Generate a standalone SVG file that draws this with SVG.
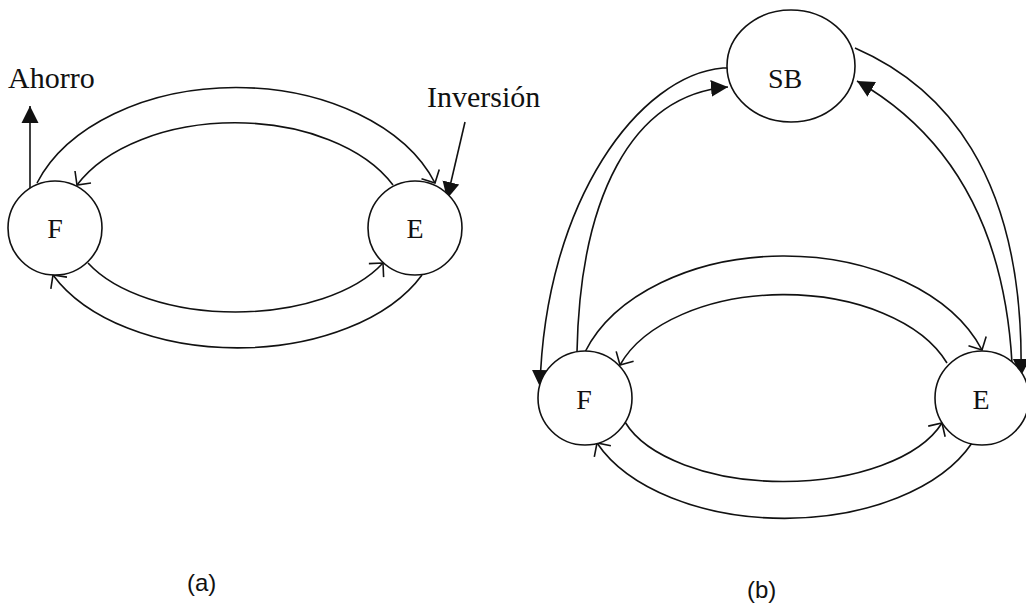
<svg xmlns="http://www.w3.org/2000/svg" width="1026" height="605" viewBox="0 0 1026 605">
<style>
.node{fill:#fff;stroke:#111;stroke-width:1.6}
.lbl{font-family:"Liberation Serif","Times New Roman",serif;font-size:28px;fill:#111;text-anchor:middle}
.txt{font-family:"Liberation Serif","Times New Roman",serif;font-size:30px;fill:#111}
.cap{font-family:"Liberation Sans",Arial,sans-serif;font-size:24px;fill:#111}
.c{fill:none;stroke:#111;stroke-width:1.6}
.o{marker-end:url(#open)}
.f{marker-end:url(#fill)}
</style>
<defs>
<marker id="open" markerUnits="userSpaceOnUse" markerWidth="14" markerHeight="24" refX="11" refY="11" orient="auto" viewBox="0 0 14 22">
<path d="M1,1 L11,11 L1,21" fill="none" stroke="#111" stroke-width="1.6"/>
</marker>
<marker id="fill" markerUnits="userSpaceOnUse" markerWidth="18" markerHeight="18" refX="17" refY="8.5" orient="auto" viewBox="0 0 18 17">
<path d="M0,0 L17,8.5 L0,17 z" fill="#111"/>
</marker>
</defs>
<g id="connectors">
<!-- (a) -->
<path class="c o" d="M37,183 A211,143 0 0 1 435,183"/>
<path class="c o" d="M393,185 A174,107 0 0 0 77,185"/>
<path class="c o" d="M88,263 A164,87 0 0 0 383,263"/>
<path class="c o" d="M422,275 A202,123 0 0 1 53,275"/>
<path class="c f" d="M30,200 L30,106"/>
<path class="c f" d="M465,122 L447,199"/>
<!-- (b) -->
<path class="c o" d="M585,352 A210,141 0 0 1 982,350"/>
<path class="c o" d="M947,363 A173,103 0 0 0 620,365"/>
<path class="c o" d="M625,422 A166,84 0 0 0 942,423"/>
<path class="c o" d="M972,443 A202,120 0 0 1 597,443"/>
<path class="c f" d="M727,68 L723,68 C640,75 545,200 540,387"/>
<path class="c f" d="M577,352 C580,200 630,95 728,87"/>
<path class="c f" d="M855,48 C940,85 1025,170 1021,376"/>
<path class="c f" d="M1012,363 C1005,240 960,140 857,81"/>
</g>
<g id="node-a-F"><circle class="node" cx="55" cy="228" r="47"/><text class="lbl" x="55" y="238">F</text></g>
<g id="node-a-E"><circle class="node" cx="415" cy="228" r="47"/><text class="lbl" x="415" y="238">E</text></g>
<g id="node-b-SB"><ellipse class="node" cx="791" cy="66" rx="64" ry="56"/><text class="lbl" x="785" y="88">SB</text></g>
<g id="node-b-F"><circle class="node" cx="585" cy="398" r="47"/><text class="lbl" x="584" y="409">F</text></g>
<g id="node-b-E"><circle class="node" cx="982" cy="398" r="47"/><text class="lbl" x="981" y="409">E</text></g>
<g id="labels">
<text class="txt" x="8" y="88">Ahorro</text>
<text class="txt" x="427" y="107">Inversión</text>
<text class="cap" x="187" y="591">(a)</text>
<text class="cap" x="747" y="598">(b)</text>
</g>
</svg>
